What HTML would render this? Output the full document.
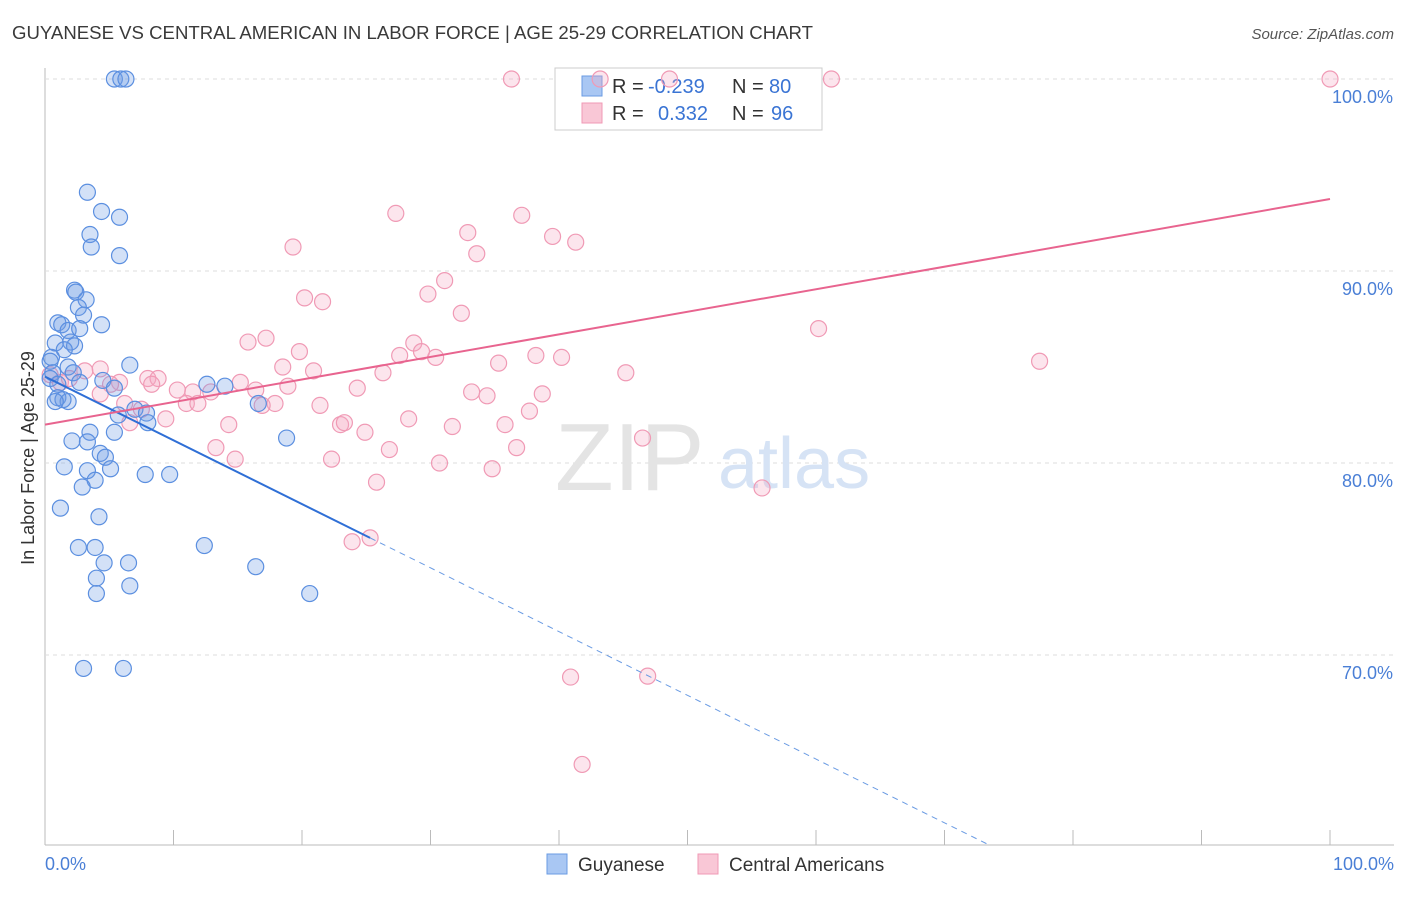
<!DOCTYPE html>
<html><head><meta charset="utf-8"><style>
body{margin:0;background:#fff;font-family:"Liberation Sans",sans-serif;}
svg text{font-family:"Liberation Sans",sans-serif;}
</style></head><body>
<svg id="chart" width="1406" height="892" xmlns="http://www.w3.org/2000/svg">
<text x="12" y="39" font-size="18.5" fill="#3a3a3a" textLength="801" lengthAdjust="spacingAndGlyphs">GUYANESE VS CENTRAL AMERICAN IN LABOR FORCE | AGE 25-29 CORRELATION CHART</text>
<text x="1394" y="39" font-size="15" fill="#555" text-anchor="end" font-style="italic">Source: ZipAtlas.com</text>
<g id="grid"></g>
<g>
<text x="555" y="490" font-size="96" fill="#e4e4e4" font-family="Liberation Serif,serif">ZIP</text>
<text x="718" y="488" font-size="72" fill="#d6e3f5">atlas</text>
</g>
<g>
<rect x="555" y="68" width="267" height="62" fill="#fff" stroke="#ccc"/>
<rect x="582" y="76" width="20" height="20" fill="#a9c7f3" stroke="#6a9be3"/>
<rect x="582" y="103" width="20" height="20" fill="#f9c7d6" stroke="#f09ab5"/>
<text x="612" y="93" font-size="20" fill="#333">R = </text><text x="648" y="93" font-size="20" fill="#3a74d4">-0.239</text>
<text x="732" y="93" font-size="20" fill="#333">N = </text><text x="769" y="93" font-size="20" fill="#3a74d4">80</text>
<text x="612" y="120" font-size="20" fill="#333">R = </text><text x="658" y="120" font-size="20" fill="#3a74d4">0.332</text>
<text x="732" y="120" font-size="20" fill="#333">N = </text><text x="771" y="120" font-size="20" fill="#3a74d4">96</text>
</g>
<g id="pts"></g>
<g id="lines"></g>
<text transform="translate(34,458) rotate(-90)" font-size="18" fill="#333" text-anchor="middle">In Labor Force | Age 25-29</text>
<text x="45" y="870" font-size="18" fill="#4a7fd6">0.0%</text>
<text x="1394" y="870" font-size="18" fill="#4a7fd6" text-anchor="end">100.0%</text>
<g><rect x="547" y="854" width="20" height="20" fill="#a9c7f3" stroke="#6a9be3"/><text x="578" y="871" font-size="19" fill="#333">Guyanese</text></g>
<g><rect x="698" y="854" width="20" height="20" fill="#f9c7d6" stroke="#f09ab5"/><text x="729" y="871" font-size="19" fill="#333">Central Americans</text></g>
</svg>
<script>
const yTicks=[100,90,80,70];
const blueX=[5.4,5.9,6.3,3.3,4.4,5.8,3.5,3.6,5.8,2.3,2.4,3.2,2.6,3.0,1.0,1.3,4.4,1.8,2.7,0.8,2.0,2.3,1.5,0.5,0.4,6.6,1.8,2.2,0.6,0.4,1.0,2.7,4.5,5.4,1.0,1.8,1.4,0.8,12.6,14.0,16.6,7.0,7.9,8.0,5.7,5.4,3.5,2.1,3.3,18.8,4.3,4.7,1.5,3.3,5.1,7.8,9.7,3.9,2.9,1.2,4.2,2.6,3.9,12.4,6.5,4.6,16.4,4.0,6.6,4.0,20.6,3.0,6.1];
const blueY=[100,100,100,94.1,93.1,92.8,91.9,91.25,90.8,89.0,88.9,88.5,88.1,87.7,87.3,87.2,87.2,86.9,87.0,86.25,86.3,86.1,85.9,85.5,85.3,85.1,85.0,84.7,84.7,84.4,84.1,84.2,84.3,83.9,83.4,83.2,83.3,83.2,84.1,84.0,83.1,82.8,82.6,82.1,82.5,81.6,81.6,81.15,81.1,81.3,80.5,80.3,79.8,79.6,79.7,79.4,79.4,79.1,78.75,77.65,77.2,75.6,75.6,75.7,74.8,74.8,74.6,74.0,73.6,73.2,73.2,69.3,69.3];
const pinkX=[36.3,43.2,48.6,61.2,100,27.3,37.1,32.9,39.5,41.3,19.3,33.6,31.1,29.8,20.2,21.6,32.4,60.2,17.2,15.8,28.7,29.3,19.8,27.6,30.4,38.2,40.2,35.3,77.4,20.9,18.5,26.3,45.2,5.8,8.0,8.8,8.3,10.3,11.5,12.9,15.2,16.4,18.9,24.3,33.2,34.4,38.7,11.0,11.9,17.9,16.9,21.4,37.7,28.3,9.4,7.5,23.0,23.3,14.3,31.7,35.8,24.9,46.5,13.3,26.8,36.7,14.8,22.3,30.7,34.8,25.8,55.8,23.9,25.3,40.9,46.9,41.8,0.4,1.2,1.9,3.1,4.3,5.1,6.2,6.6,4.3];
const pinkY=[100,100,100,100,100,93.0,92.9,92.0,91.8,91.5,91.25,90.9,89.5,88.8,88.6,88.4,87.8,87.0,86.5,86.3,86.25,85.8,85.8,85.6,85.5,85.6,85.5,85.2,85.3,84.8,85.0,84.7,84.7,84.2,84.4,84.4,84.1,83.8,83.7,83.7,84.2,83.8,84.0,83.9,83.7,83.5,83.6,83.1,83.1,83.1,83.0,83.0,82.7,82.3,82.3,82.8,82.0,82.1,82.0,81.9,82.0,81.6,81.3,80.8,80.7,80.8,80.2,80.2,80.0,79.7,79.0,78.7,75.9,76.1,68.85,68.9,64.3,84.6,84.2,84.4,84.8,84.9,84.1,83.1,82.1,83.6];
const blueTrend=[84.5,76.1];
const pinkTrend=[82.0,93.75];
const NS='http://www.w3.org/2000/svg';
const sx=v=>45+v*12.85, sy=v=>79+(100-v)*19.2;
function mk(t,a,p){const e=document.createElementNS(NS,t);for(const k in a)e.setAttribute(k,a[k]);p.appendChild(e);return e;}
const grid=document.getElementById('grid');
const ax=mk('line',{x1:45,y1:68,x2:45,y2:845,stroke:'#bbb'},grid);


const bx=mk('line',{x1:45,y1:845,x2:1394,y2:845,stroke:'#bbb'},grid);


for(let i=0;i<=10;i++){const t=mk('line',{x1:sx(i*10),y1:830,x2:sx(i*10),y2:845,stroke:'#bbb'},grid);

}
yTicks.forEach(v=>{const g=mk('line',{x1:45,y1:sy(v),x2:1394,y2:sy(v),stroke:'#ddd','stroke-dasharray':'4,4'},grid);


const l=mk('text',{x:1393,y:sy(v)+24,'font-size':18,fill:'#4a7fd6','text-anchor':'end'},grid);l.textContent=v.toFixed(1)+'%';

});
const pts=document.getElementById('pts');
pinkX.forEach((x,i)=>{const c=mk('circle',{cx:sx(x),cy:sy(pinkY[i]),r:8,fill:'rgba(245,170,195,0.3)',stroke:'#f09ab5','stroke-width':1.2},pts);

});
blueX.forEach((x,i)=>{const c=mk('circle',{cx:sx(x),cy:sy(blueY[i]),r:8,fill:'rgba(110,155,230,0.3)',stroke:'#5b8fe0','stroke-width':1.2},pts);

});
const ln=document.getElementById('lines');
const bs=(blueTrend[1]-blueTrend[0])/25.3;
const b1=mk('line',{x1:sx(0),y1:sy(blueTrend[0]),x2:sx(25.3),y2:sy(blueTrend[1]),stroke:'#2f6fd6','stroke-width':2},ln);


const xe=(blueTrend[0]-60.1)/-bs;
const b2=mk('line',{x1:sx(25.3),y1:sy(blueTrend[1]),x2:sx(xe),y2:sy(blueTrend[0]+bs*xe),stroke:'#6a9be3','stroke-width':1,'stroke-dasharray':'6,5'},ln);


const p1=mk('line',{x1:sx(0),y1:sy(pinkTrend[0]),x2:sx(100),y2:sy(pinkTrend[1]),stroke:'#e8648f','stroke-width':2},ln);


</script>
</body></html>
